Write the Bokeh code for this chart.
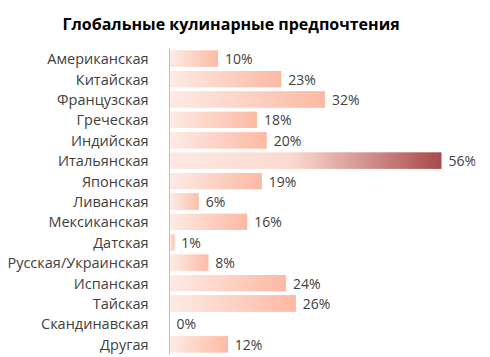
from bokeh.plotting import figure
from bokeh.models import Range1d, ColumnDataSource
from bokeh.embed import file_html
from bokeh.resources import INLINE
from bokeh.core.properties import value

# ---- data ----
title_text = "Глобальные кулинарные предпочтения"
categories = ["Американская", "Китайская", "Французская", "Греческая", "Индийская",
              "Итальянская", "Японская", "Ливанская", "Мексиканская", "Датская",
              "Русская/Украинская", "Испанская", "Тайская", "Скандинавская", "Другая"]
values = [10, 23, 32, 18, 20, 56, 19, 6, 16, 1, 8, 24, 26, 0, 12]

# ---- styles ----
FONT = "Open Sans"
TEXT_COLOR = "#404040"
normal_stops = [(0.0, (253, 235, 229)), (1.0, (252, 185, 163))]
highlight_stops = [(0.0, (253, 233, 226)), (0.45, (251, 217, 207)), (1.0, (168, 74, 74))]
N_SLICES = 80


def interp(stops, t):
    for (t0, c0), (t1, c1) in zip(stops[:-1], stops[1:]):
        if t <= t1:
            f = (t - t0) / (t1 - t0) if t1 > t0 else 0
            return "#%02x%02x%02x" % tuple(int(round(a + (b - a) * f)) for a, b in zip(c0, c1))
    return "#%02x%02x%02x" % stops[-1][1]


vmax = max(values)
ys, lefts, rights, colors = [], [], [], []
for cat, v in zip(categories, values):
    stops = highlight_stops if v == vmax else normal_stops
    for i in range(N_SLICES):
        t = (i + 0.5) / N_SLICES
        ys.append(cat)
        lefts.append(v * i / N_SLICES)
        rights.append(v * min(i + 1.8, N_SLICES) / N_SLICES)
        colors.append(interp(stops, t))

bars = ColumnDataSource(dict(y=ys, left=lefts, right=rights, color=colors))
labels = ColumnDataSource(dict(y=categories, x=values, text=[f"{v}%" for v in values]))

p = figure(width=490, height=357, y_range=list(reversed(categories)),
           x_range=Range1d(0, 63), output_backend="svg", toolbar_location=None,
           min_border_left=169, min_border_right=15, min_border_top=47, min_border_bottom=3)

p.title.text = title_text
p.title.align = "left"
p.title.offset = -107
p.title.vertical_align = "top"
p.title.text_font = FONT
p.title.text_font_size = "16px"
p.title.text_font_style = "bold"
p.title.text_color = "#000000"
p.title.standoff = 24

p.hbar(y="y", left="left", right="right", height=0.8, fill_color="color",
       line_color=None, source=bars)
p.text(x="x", y="y", text="text", source=labels, x_offset=7,
       text_baseline="middle", text_align="left", text_font=value(FONT),
       text_font_size="14px", text_color=TEXT_COLOR)

p.xaxis.visible = False
p.xgrid.visible = False
p.ygrid.visible = False
p.outline_line_color = None
p.yaxis.axis_line_color = "#BFBFBF"
p.yaxis.major_tick_line_color = None
p.yaxis.minor_tick_line_color = None
p.yaxis.major_label_standoff = 15
p.yaxis.major_label_text_font = FONT
p.yaxis.major_label_text_font_size = "14.5px"
p.yaxis.major_label_text_color = TEXT_COLOR

open("out.html", "w").write(file_html(p, INLINE))
